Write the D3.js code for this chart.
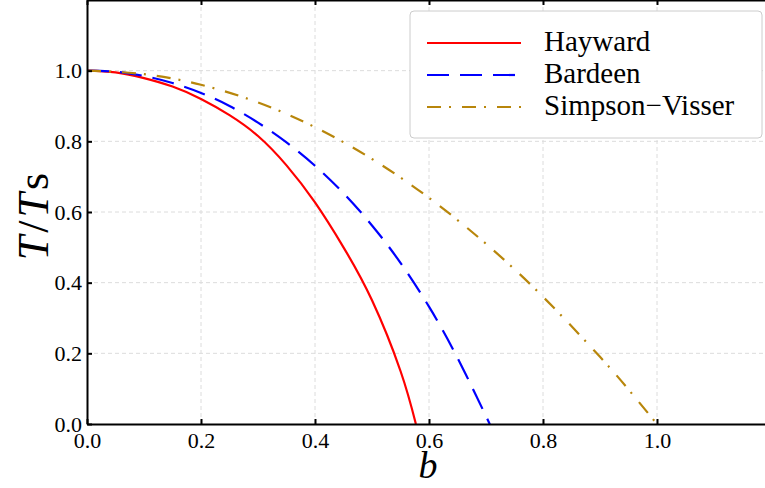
<!DOCTYPE html>
<html>
<head>
<meta charset="utf-8">
<script src="https://cdn.jsdelivr.net/npm/d3@7"></script>
<style>
  body { margin: 0; background: #fff; }
  text { font-family: "Liberation Serif", "DejaVu Serif", serif; fill: #000; }
</style>
</head>
<body>
<svg class="chart"></svg>
<script>
// values
var haywardB = [0, 0.05, 0.1, 0.15, 0.2, 0.25, 0.3, 0.35, 0.4, 0.45, 0.5, 0.55, 0.577];
var haywardT = [1.0, 0.995, 0.979, 0.955, 0.92, 0.874, 0.815, 0.732, 0.627, 0.5, 0.35, 0.15, 0.0];

var bardeenB = [0, 0.05, 0.1, 0.15, 0.2, 0.25, 0.3, 0.35, 0.4, 0.45, 0.5, 0.55, 0.6, 0.65, 0.7, 0.706];
var bardeenT = [1.0, 0.997, 0.985, 0.965, 0.937, 0.9, 0.853, 0.797, 0.731, 0.653, 0.562, 0.456, 0.332, 0.187, 0.022, 0.0];

var svB = [0, 0.1, 0.2, 0.3, 0.4, 0.5, 0.6, 0.7, 0.8, 0.9, 0.95, 1.0];
var svT = [1.0, 0.99, 0.96, 0.91, 0.84, 0.75, 0.64, 0.51, 0.36, 0.19, 0.0975, 0.0];

var seriesNames = ['Hayward', 'Bardeen', 'Simpson\u2212Visser'];
var seriesColors = ['#ff0000', '#0000ff', '#b8860b'];
var seriesDash = [null, '22,11', '14,8,2,11'];

var xTicks = [0, 0.2, 0.4, 0.6, 0.8, 1.0];
var yTicks = [0, 0.2, 0.4, 0.6, 0.8, 1.0];
var gridTicks = [0.2, 0.4, 0.6, 0.8, 1.0, 1.2];

var width = 765, height = 488;
var margin = {left: 87, top: 0};
var plotW = 684, plotH = 424;

var svg = d3.select('.chart').attr('width', width).attr('height', height);
var g = svg.append('g').attr('transform', 'translate(' + margin.left + ',' + margin.top + ')');

var x = d3.scaleLinear().domain([0, 1.2]).range([0, plotW]);
var y = d3.scaleLinear().domain([0, 1.2]).range([plotH, 0]);

svg.append('defs').append('clipPath').attr('id', 'clip')
    .append('rect').attr('width', plotW).attr('height', plotH);

// grid
g.append('g').selectAll('line.vgrid')
    .data(gridTicks)
    .join('line')
    .attr('x1', d => x(d)).attr('x2', d => x(d))
    .attr('y1', 0).attr('y2', plotH)
    .style('stroke', '#dcdcdc').style('stroke-width', 1).style('stroke-dasharray', '4,3');
g.append('g').selectAll('line.hgrid')
    .data(gridTicks)
    .join('line')
    .attr('y1', d => y(d)).attr('y2', d => y(d))
    .attr('x1', 0).attr('x2', plotW)
    .style('stroke', '#dcdcdc').style('stroke-width', 1).style('stroke-dasharray', '4,3');

// curves
var series = [
  {b: haywardB, t: haywardT},
  {b: bardeenB, t: bardeenT},
  {b: svB, t: svT}
];
var line = d3.line()
    .x(d => x(d[0]))
    .y(d => y(d[1]))
    .curve(d3.curveNatural);

g.append('g').attr('clip-path', 'url(#clip)')
    .selectAll('path.curve')
    .data(series)
    .join('path')
    .attr('class', 'curve')
    .attr('d', s => line(s.b.map((b, i) => [b, s.t[i]])))
    .style('fill', 'none')
    .style('stroke', (s, i) => seriesColors[i])
    .style('stroke-width', 2.2)
    .style('stroke-dasharray', (s, i) => seriesDash[i]);

// axes, ticks pointing inward
var xAxis = d3.axisBottom(x).tickValues(xTicks).tickFormat(d3.format('.1f'))
    .tickSizeInner(-5).tickSizeOuter(0).tickPadding(8);
var yAxis = d3.axisLeft(y).tickValues(yTicks).tickFormat(d3.format('.1f'))
    .tickSizeInner(-5).tickSizeOuter(0).tickPadding(5);
var xTop = d3.axisTop(x).tickValues(xTicks.concat([1.2])).tickFormat('')
    .tickSizeInner(-5).tickSizeOuter(0);

function styleAxis(sel) {
  sel.attr('font-family', 'Liberation Serif').attr('font-size', 22);
  sel.select('.domain').style('stroke', '#000').style('stroke-width', 2);
  sel.selectAll('.tick line').style('stroke', '#000').style('stroke-width', 2);
  sel.selectAll('.tick text')
      .attr('font-family', 'Liberation Serif')
      .attr('font-size', 22)
      .style('font-size', '22px')
      .style('fill', '#000');
}

g.append('g').attr('transform', 'translate(0,' + plotH + ')').call(xAxis).call(styleAxis);
g.append('g').call(yAxis).call(styleAxis);
g.append('g').call(xTop).call(styleAxis);

// axis labels
svg.append('text')
    .attr('x', 428).attr('y', 478)
    .attr('text-anchor', 'middle')
    .style('font-size', '38px').style('font-style', 'italic')
    .text('b');

var yl = svg.append('text')
    .attr('transform', 'translate(48,215) rotate(-90)')
    .attr('text-anchor', 'middle')
    .style('font-size', '44px')
    .style('letter-spacing', '3px');
yl.append('tspan').style('font-style', 'italic').text('T');
yl.append('tspan').text('/');
yl.append('tspan').style('font-style', 'italic').text('T');
yl.append('tspan').text('s');

// legend
var legend = svg.append('g').attr('transform', 'translate(410,11)');
legend.append('rect')
    .attr('width', 352).attr('height', 127)
    .attr('rx', 4).attr('ry', 4)
    .style('fill', '#fff').style('stroke', '#cccccc').style('stroke-width', 1);

var rows = legend.selectAll('g.row')
    .data(seriesNames)
    .join('g')
    .attr('class', 'row')
    .attr('transform', (d, i) => 'translate(0,' + (32 + i * 32) + ')');
rows.append('line')
    .attr('x1', 17).attr('x2', 111).attr('y1', 0).attr('y2', 0)
    .style('stroke', (d, i) => seriesColors[i])
    .style('stroke-width', 2.2)
    .style('stroke-dasharray', (d, i) => seriesDash[i]);
rows.append('text')
    .attr('x', 134).attr('y', 8)
    .style('font-size', '29px')
    .text(d => d);
</script>
</body>
</html>
